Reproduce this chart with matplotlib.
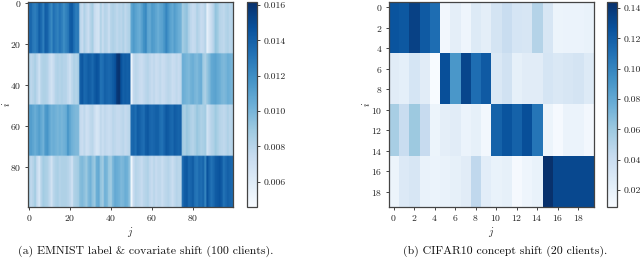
import matplotlib
matplotlib.use("Agg")
import matplotlib.pyplot as plt
import numpy as np

plt.rcParams["font.family"] = ["cmr10", "DejaVu Serif"]
plt.rcParams["mathtext.fontset"] = "cm"
plt.rcParams["axes.formatter.use_mathtext"] = True

## -----------------------------------------------------------------------------
# EMNIST, one row per block of 25 clients, values in units of 1e-3
emnist_0 = [13.5,13.7,12.9,12.7,13.1,14.1,13.5,12.7,14.1,13.9,12.9,12.2,13.3,12.9,12.5,13.1,12.7,12.0,12.5,12.9,14.1,14.3,13.3,12.7,12.9,
            7.9,7.4,8.3,7.7,7.2,8.1,8.6,7.4,6.9,6.7,8.2,7.4,8.1,7.9,7.2,8.1,8.3,8.1,7.7,8.1,7.9,8.3,7.7,8.1,8.3,
            10.8,11.4,11.0,10.6,10.4,11.0,11.8,12.2,10.8,10.6,11.4,11.2,10.8,10.4,10.8,11.0,11.6,12.4,11.6,11.0,10.6,11.2,10.8,10.4,10.2,
            8.7,9.1,9.3,8.3,7.7,7.4,7.6,8.3,7.9,7.4,7.6,8.1,5.6,6.6,7.4,8.1,9.2,8.9,8.1,7.9,7.7,8.1,8.3,7.9,8.1]
emnist_1 = [8.7,7.8,8.1,8.5,7.8,7.0,8.1,8.3,8.3,8.1,7.4,6.8,7.4,8.1,8.3,8.1,8.3,8.1,8.1,7.6,7.0,7.8,8.3,8.1,8.5,
            14.0,14.4,13.6,13.8,14.2,14.0,13.6,14.2,14.6,14.4,13.2,13.4,14.0,13.8,13.6,13.8,14.2,14.6,15.8,16.0,14.6,14.0,14.2,14.0,14.2,
            5.2,7.6,7.9,7.7,7.4,7.2,7.6,7.9,8.1,7.7,7.4,7.7,7.2,7.4,7.7,7.2,7.4,7.7,7.9,7.7,7.2,7.4,7.7,7.4,7.7,
            10.4,10.2,10.0,9.8,10.2,10.4,10.0,9.8,10.2,10.4,8.8,8.4,9.2,9.8,10.6,10.8,11.0,10.6,10.4,10.0,9.8,10.0,10.4,10.2,10.0]
emnist_2 = [11.0,11.2,10.8,10.4,10.8,11.2,10.6,10.2,11.4,11.6,10.8,10.2,10.4,10.2,10.0,10.2,10.0,10.2,10.4,11.6,10.8,10.2,10.0,9.8,9.8,
            7.5,7.2,7.7,7.0,7.2,7.7,7.9,7.2,6.5,6.7,7.7,7.2,7.7,7.5,7.2,7.5,7.9,7.7,7.5,7.5,7.7,7.9,7.5,7.7,7.9,
            13.6,13.8,13.4,14.2,14.0,13.6,13.4,14.2,14.4,13.8,13.6,13.8,14.0,14.0,13.4,13.2,13.8,14.4,14.2,13.8,13.6,14.2,14.0,13.8,14.0,
            8.7,8.5,9.1,8.7,8.3,8.1,8.5,9.1,8.7,8.3,8.5,8.7,6.8,7.6,8.1,8.3,8.9,8.5,8.1,7.9,7.7,7.9,8.3,7.9,8.1]
emnist_3 = [8.5,7.7,8.1,8.7,7.4,6.5,8.1,8.7,8.5,8.3,7.7,6.8,7.9,8.3,8.5,8.1,8.3,8.3,8.3,8.1,7.7,6.9,8.3,8.5,8.7,
            9.6,9.8,9.4,9.0,9.8,10.2,9.4,9.0,10.4,10.6,9.2,8.8,10.2,10.0,9.0,8.8,10.0,10.6,10.4,10.2,9.8,10.0,10.4,10.2,9.4,
            5.0,7.4,8.1,7.9,7.7,7.4,7.9,8.1,8.3,7.7,7.4,7.9,7.4,7.7,7.7,7.2,7.7,7.9,8.1,7.7,7.2,7.7,8.1,7.9,7.9,
            13.6,14.2,14.4,13.6,13.8,14.2,13.2,13.0,13.6,13.4,13.8,12.4,14.6,13.8,13.2,13.6,14.2,14.4,14.6,14.2,13.2,13.6,14.0,13.8,13.6]

# CIFAR10, one row per block of 5 clients
cifar_0 = [.125,.123,.135,.122,.112,.012,.022,.015,.026,.022,.033,.040,.032,.030,.050,.030,.016,.017,.017,.018]
cifar_1 = [.024,.021,.032,.024,.009,.128,.090,.132,.112,.122,.028,.035,.020,.024,.024,.032,.028,.030,.033,.026]
cifar_2 = [.055,.040,.060,.042,.016,.022,.024,.017,.020,.012,.118,.125,.118,.128,.108,.016,.010,.017,.017,.012]
cifar_3 = [.016,.027,.030,.018,.017,.018,.020,.024,.045,.023,.018,.020,.010,.015,.018,.143,.131,.131,.131,.131]

emnist = np.repeat(np.array([emnist_0, emnist_1, emnist_2, emnist_3])*1e-3, 25, axis=0)
cifar = np.repeat(np.array([cifar_0, cifar_1, cifar_2, cifar_3]), 5, axis=0)

## -----------------------------------------------------------------------------
# plot
fig = plt.figure(figsize=(6.4, 2.58), dpi=100)
W, H = 640.0, 258.0
edge = "#444444"

panels = [
    (emnist, 28, 247, 0.00457, 0.01617, [0,20,40,60,80], [0.006,0.008,0.010,0.012,0.014,0.016], "%.3f", 145.5,
     "(a) EMNIST label & covariate shift (100 clients)."),
    (cifar, 388.5, 607, 0.0088, 0.144, list(range(0,20,2)), [0.02,0.04,0.06,0.08,0.10,0.12,0.14], "%.2f", 505.5,
     "(b) CIFAR10 concept shift (20 clients)."),
]

for data, x0, cx, vmin, vmax, ticks, cticks, cfmt, capx, cap in panels:
    ax = fig.add_axes([x0/W, 1-207/H, 205/W, 205/H])
    im = ax.imshow(data, cmap="Blues", vmin=vmin, vmax=vmax, aspect="auto")
    ax.set_xticks(ticks)
    ax.set_yticks(ticks)
    ax.tick_params(labelsize=7, length=2.5, width=0.7, pad=2, color=edge, labelcolor="#222222")
    ax.set_xlabel("$j$", fontsize=7.5, labelpad=1, color="#222222")
    ax.set_ylabel("$i$", fontsize=7.5, labelpad=-1, color="#222222")
    for s in ax.spines.values():
        s.set_linewidth(0.9)
        s.set_color(edge)

    cax = fig.add_axes([cx/W, 1-207/H, 10/W, 205/H])
    cb = fig.colorbar(im, cax=cax, ticks=cticks, format=cfmt)
    cb.ax.tick_params(labelsize=7, length=2.5, width=0.7, pad=2, color=edge, labelcolor="#222222")
    cb.outline.set_linewidth(0.9)
    cb.outline.set_edgecolor(edge)

    fig.text(capx/W, 1-251.5/H, cap, fontsize=8.5, ha="center", va="center", color="#111111")

plt.savefig("out.png", dpi=100)
